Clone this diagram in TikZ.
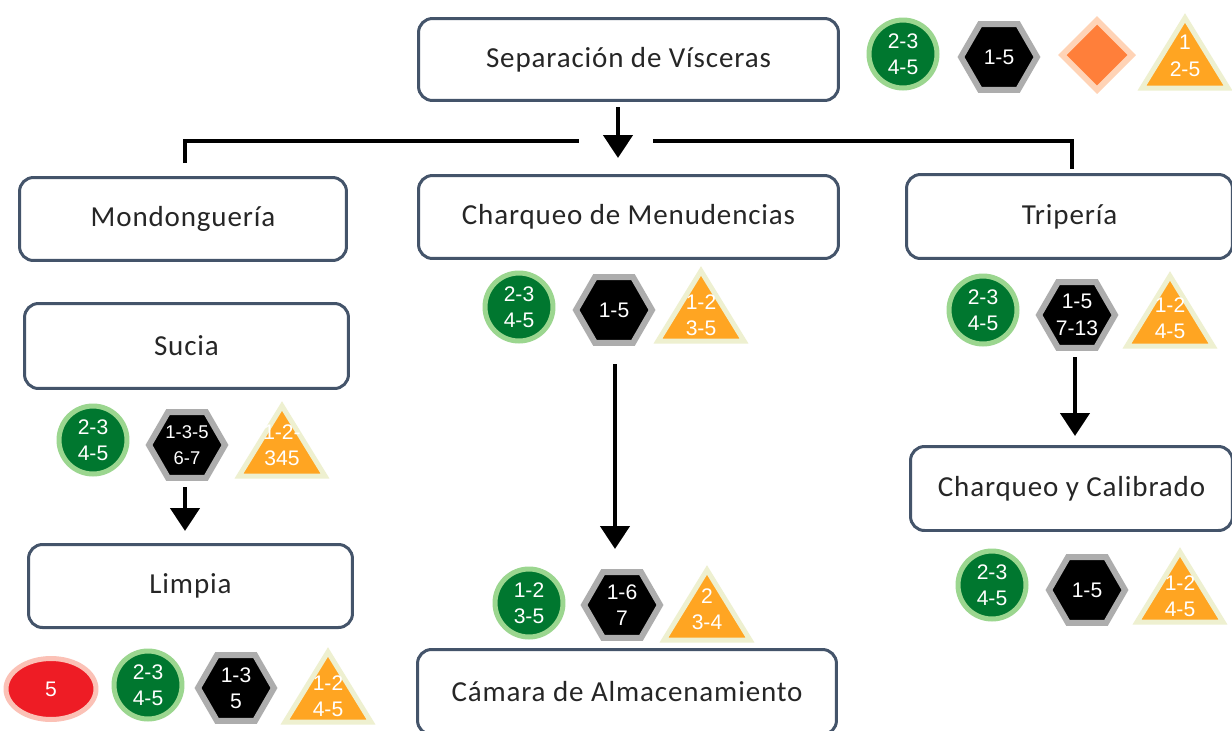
\documentclass[tikz,border=0pt]{standalone}
\usepackage{fontspec}
\setmainfont{Carlito}[LetterSpace=3]
\newfontfamily\badgef{Liberation Sans}
\usetikzlibrary{shapes.geometric,arrows.meta}
\definecolor{gdark}{HTML}{00772F}
\definecolor{glight}{HTML}{9BD68F}
\definecolor{hgray}{HTML}{ADADAD}
\definecolor{dorange}{HTML}{FF7F3A}
\definecolor{dpeach}{HTML}{FFD3B6}
\definecolor{torange}{HTML}{FFA522}
\definecolor{tcream}{HTML}{EEF0D0}
\definecolor{rred}{HTML}{EE1C25}
\definecolor{rpink}{HTML}{FBC1B6}
\definecolor{boxc}{HTML}{44546A}
\definecolor{txtc}{HTML}{262626}
\tikzset{
  box/.style={draw=boxc, line width=0.06cm, rounded corners=0.28cm, fill=white,
    font=\fontsize{16.5}{19}\selectfont, text=txtc, inner sep=0pt},
  btext/.style={font=\badgef\fontsize{12}{15}\selectfont, text=white, align=center, inner sep=0pt},
  gbadge/.style={btext, circle, fill=gdark, draw=glight, line width=0.1cm, minimum size=1.36cm},
  hbadge/.style={btext, regular polygon, regular polygon sides=6, fill=black, draw=hgray,
    line width=0.12cm, minimum size=1.52cm},
  dbadge/.style={diamond, fill=dorange, draw=dpeach, line width=0.12cm,
    minimum width=1.44cm, minimum height=1.44cm, inner sep=0pt},
  rbadge/.style={btext, ellipse, fill=rred, draw=rpink, line width=0.1cm,
    minimum width=1.8cm, minimum height=1.22cm},
  tribg/.style={fill=torange, draw=tcream, line width=0.1cm, line join=miter},
  conn/.style={line width=0.08cm, black},
  arr/.style={line width=0.09cm, black, -{Triangle[width=0.58cm,length=0.46cm]}},
}
% triangle badge: name, x, y (bbox centre), text, text offset
\newcommand\tribadge[5]{%
  \draw[tribg] (#2,#3) ++(0,-34) -- ++(43,70) -- ++(-86,0) -- cycle;
  \node[btext] (#1) at (#2,{#3+#5}) {#4};
}
\begin{document}
\begin{tikzpicture}[x=0.02cm,y=-0.02cm]
\useasboundingbox (0,0) rectangle (1232,731);
\clip (0,0) rectangle (1232,731);
\fill[white] (0,0) rectangle (1232,731);

% boxes
\node[box, minimum width=8.4cm, minimum height=1.64cm] (sep) at (628.5,59.5) {Separación de Vísceras};
\node[box, minimum width=6.54cm, minimum height=1.66cm] (mon) at (183,219) {Mondonguería};
\node[box, minimum width=8.4cm, minimum height=1.66cm] (men) at (628.5,217) {Charqueo de Menudencias};
\node[box, minimum width=6.52cm, minimum height=1.68cm] (tri) at (1069.5,216.5) {Tripería};
\node[box, minimum width=6.48cm, minimum height=1.7cm] (suc) at (186.5,346) {Sucia};
\node[box, minimum width=6.48cm, minimum height=1.66cm] (lim) at (190.5,586) {Limpia};
\node[box, minimum width=6.44cm, minimum height=1.68cm] (cal) at (1071.5,488.5) {Charqueo y Calibrado};
\node[box, minimum width=8.38cm, minimum height=1.7cm] (cam) at (627,692) {Cámara de Almacenamiento};

% connectors
\coordinate (a1s) at (618,107);
\coordinate (a1e) at (618,158);
\draw[arr] (a1s) -- (a1e);
\coordinate (hl0) at (185,163);
\coordinate (hl1) at (185,141);
\coordinate (hl2) at (579,141);
\coordinate (hr0) at (653,141);
\coordinate (hr1) at (1072,141);
\coordinate (hr2) at (1072,169);
\draw[conn] (hl0) -- (hl1) -- (hl2);
\draw[conn] (hr0) -- (hr1) -- (hr2);
\coordinate (a2s) at (615,364);
\coordinate (a2e) at (615,549);
\draw[arr] (a2s) -- (a2e);
\coordinate (a3s) at (1075,357);
\coordinate (a3e) at (1075,436);
\draw[arr] (a3s) -- (a3e);
\coordinate (a4s) at (185,487);
\coordinate (a4e) at (185,531);
\draw[arr] (a4s) -- (a4e);

% top badges
\node[gbadge] (g0) at (903,54) {2-3\\4-5};
\node[hbadge] (h0) at (999,57) {1-5};
\node[dbadge] (d0) at (1097,55) {};
\tribadge{t0}{1185}{52}{1\\2-5}{4}

% Menudencias badges
\node[gbadge] (g1) at (519,307) {2-3\\4-5};
\node[hbadge] (h1) at (614,310) {1-5};
\tribadge{t1}{701}{305}{1-2\\3-5}{10}

% Triperia badges
\node[gbadge] (g2) at (983,310) {2-3\\4-5};
\node[hbadge] (h2) at (1077,315) {1-5\\7-13};
\tribadge{t2}{1170}{310}{1-2\\4-5}{8}

% Sucia badges
\node[gbadge] (g3) at (93,440) {2-3\\4-5};
\node[hbadge, font=\badgef\fontsize{10.5}{15}\selectfont] (h3) at (187,445) {1-3-5\\6-7};
\tribadge{t3}{282}{440}{1-2-\\345}{5}

% Limpia badges
\node[rbadge] (r4) at (51,689) {5};
\node[gbadge] (g4) at (148,685) {2-3\\4-5};
\node[hbadge] (h4) at (236,688) {1-3\\5};
\tribadge{t4}{328}{686}{1-2\\4-5}{10}

% Camara badges
\node[gbadge] (g5) at (529,603) {1-2\\3-5};
\node[hbadge] (h5) at (622,605) {1-6\\7};
\tribadge{t5}{707}{604}{2\\3-4}{5}

% Calibrado badges
\node[gbadge] (g6) at (992,585) {2-3\\4-5};
\node[hbadge] (h6) at (1087,590) {1-5};
\tribadge{t6}{1180}{586}{1-2\\4-5}{10}
\end{tikzpicture}
\end{document}
